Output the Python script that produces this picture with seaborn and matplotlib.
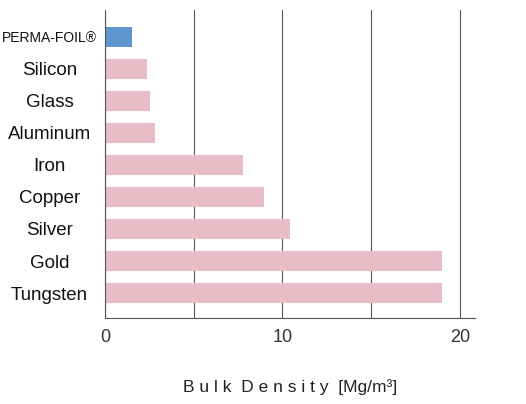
import matplotlib
matplotlib.use("Agg")
import matplotlib.pyplot as plt
import seaborn as sns
import pandas as pd

# Bulk density values
materials = ["PERMA-FOIL®", "Silicon", "Glass", "Aluminum", "Iron",
             "Copper", "Silver", "Gold", "Tungsten"]
density = [1.5, 2.35, 2.55, 2.8, 7.75, 8.95, 10.45, 19.0, 19.0]
bar_colors = ["#5f95cd"] + ["#e9bdc8"] * 8
x_ticks = [0, 5, 10, 15, 20]
x_tick_labels = ["0", "", "10", "", "20"]

df = pd.DataFrame({"material": materials, "density": density})

sns.set_style("white")
plt.rcParams["font.family"] = ["Liberation Sans", "DejaVu Sans"]

fig = plt.figure(figsize=(5.26, 4.04), dpi=100)
ax = fig.add_axes([105 / 526, 1 - 318 / 404, 370 / 526, 308 / 404])

sns.barplot(data=df, x="density", y="material", hue="material",
            palette=bar_colors, orient="h", width=0.62, legend=False,
            saturation=1, linewidth=0, ax=ax)

ax.set_xlim(0, 20.85)
ax.set_ylim(8.78, -0.84)
ax.set_xticks(x_ticks)
ax.set_xticklabels(x_tick_labels, fontsize=13, color="#333333")
ax.set_axisbelow(True)
ax.xaxis.grid(True, color="#555555", linewidth=0.8)
ax.tick_params(axis="both", length=0)
ax.tick_params(axis="x", pad=8)
ax.tick_params(axis="y", pad=40)
for lbl in ax.get_yticklabels():
    lbl.set_horizontalalignment("center")
    lbl.set_fontsize(13.5)
    lbl.set_color("#111111")
ax.get_yticklabels()[0].set_fontsize(10)

ax.set_ylabel("")
ax.set_xlabel("B u l k  D e n s i t y  [Mg/m³]", fontsize=12.5,
              color="#222222", labelpad=24)

for side in ["top", "right"]:
    ax.spines[side].set_visible(False)
ax.spines["left"].set_color("#555555")
ax.spines["bottom"].set_color("#555555")
ax.spines["left"].set_linewidth(0.8)
ax.spines["bottom"].set_linewidth(0.8)

fig.savefig("out.png", dpi=100)
